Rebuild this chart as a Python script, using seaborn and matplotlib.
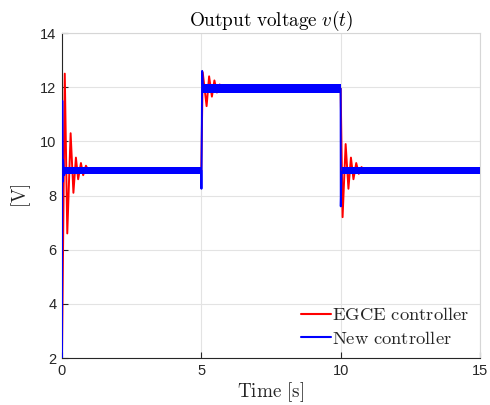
import numpy as np
import pandas as pd
import matplotlib
matplotlib.use('Agg')
import matplotlib.pyplot as plt
import seaborn as sns

# EGCE controller: key points of the response (peaks / troughs)
egce_t = [0.0, 0.10, 0.19, 0.31, 0.41, 0.50, 0.58, 0.68, 0.76, 0.86, 0.95,
          5.00, 5.05, 5.19, 5.28, 5.38, 5.47, 5.56, 5.66, 5.76, 5.85,
          10.00, 10.07, 10.18, 10.28, 10.37, 10.46, 10.56, 10.65, 10.75, 10.85, 15.0]
egce_v = [2.0, 12.5, 6.6, 10.3, 8.1, 9.4, 8.6, 9.2, 8.75, 9.1, 8.92,
          8.92, 12.55, 11.3, 12.4, 11.65, 12.25, 11.8, 12.1, 11.9, 11.95,
          11.95, 7.2, 9.9, 8.25, 9.4, 8.6, 9.2, 8.8, 9.05, 8.92, 8.92]

# New controller
new_t = [0.0, 0.01, 0.02, 0.04, 0.08, 0.15, 5.0, 5.005, 5.03, 5.07, 5.12, 5.2,
         10.0, 10.005, 10.03, 10.08, 15.0]
new_v = [2.0, 11.5, 8.5, 9.3, 8.75, 9.0, 8.92, 8.25, 12.6, 11.85, 12.05, 11.95,
         11.95, 7.6, 8.8, 8.9, 8.92]

# ripple band of the new controller in steady state
band_t = [0.05, 5.0, 5.0, 5.05, 5.05, 10.0, 10.0, 10.05, 10.05, 15.0]
band_lo = [8.78, 8.78, np.nan, np.nan, 11.8, 11.8, np.nan, np.nan, 8.78, 8.78]
band_hi = [9.06, 9.06, np.nan, np.nan, 12.1, 12.1, np.nan, np.nan, 9.06, 9.06]

x_ticks = [0, 5, 10, 15]
y_ticks = [2, 4, 6, 8, 10, 12, 14]

sns.set_style('whitegrid')
plt.rcParams['font.family'] = ['Liberation Sans', 'DejaVu Sans']
plt.rcParams['mathtext.fontset'] = 'cm'

dark = '#262626'
gridc = '#e3e3e3'

df_egce = pd.DataFrame({'t': egce_t, 'v': egce_v})
df_new = pd.DataFrame({'t': new_t, 'v': new_v})

fig = plt.figure(figsize=(4.9, 4.05), dpi=100)
ax = fig.add_axes([0.1265, 0.116, 0.853, 0.8025])

sns.lineplot(data=df_egce, x='t', y='v', ax=ax, color='#ff0000', lw=1.4,
             label=r'$\mathrm{EGCE\ controller}$', sort=False, estimator=None)
ax.fill_between(band_t, band_lo, band_hi, color='#0000ff', lw=0, zorder=3)
sns.lineplot(data=df_new, x='t', y='v', ax=ax, color='#0000ff', lw=1.4,
             label=r'$\mathrm{New\ controller}$', sort=False, estimator=None, zorder=4)

ax.set_xlim(0, 15)
ax.set_ylim(2, 14)
ax.set_xticks(x_ticks)
ax.set_yticks(y_ticks)
ax.grid(True, color=gridc, lw=0.8)
ax.tick_params(axis='both', direction='in', length=4, width=0.8, colors=dark,
               labelsize=10.5, pad=4, top=False, right=False, bottom=True, left=True)
for side in ['left', 'bottom']:
    ax.spines[side].set_color(dark)
    ax.spines[side].set_linewidth(0.8)
for side in ['top', 'right']:
    ax.spines[side].set_color('#d6d6d6')
    ax.spines[side].set_linewidth(0.8)

ax.set_title(r'$\mathrm{Output\ voltage}\ v(t)$', fontsize=13.8, color='black', pad=5)
ax.set_xlabel(r'$\mathrm{Time\ [s]}$', fontsize=13.8, color=dark, labelpad=2)
ax.set_ylabel(r'$\mathrm{[V]}$', fontsize=13.8, color=dark, labelpad=5)

leg = ax.legend(loc='lower right', frameon=False, fontsize=13.4, handlelength=1.6,
                handletextpad=0.05, borderaxespad=0.15, labelspacing=0.35)
for line in leg.get_lines():
    line.set_linewidth(1.5)

fig.savefig('out.png', dpi=100)
